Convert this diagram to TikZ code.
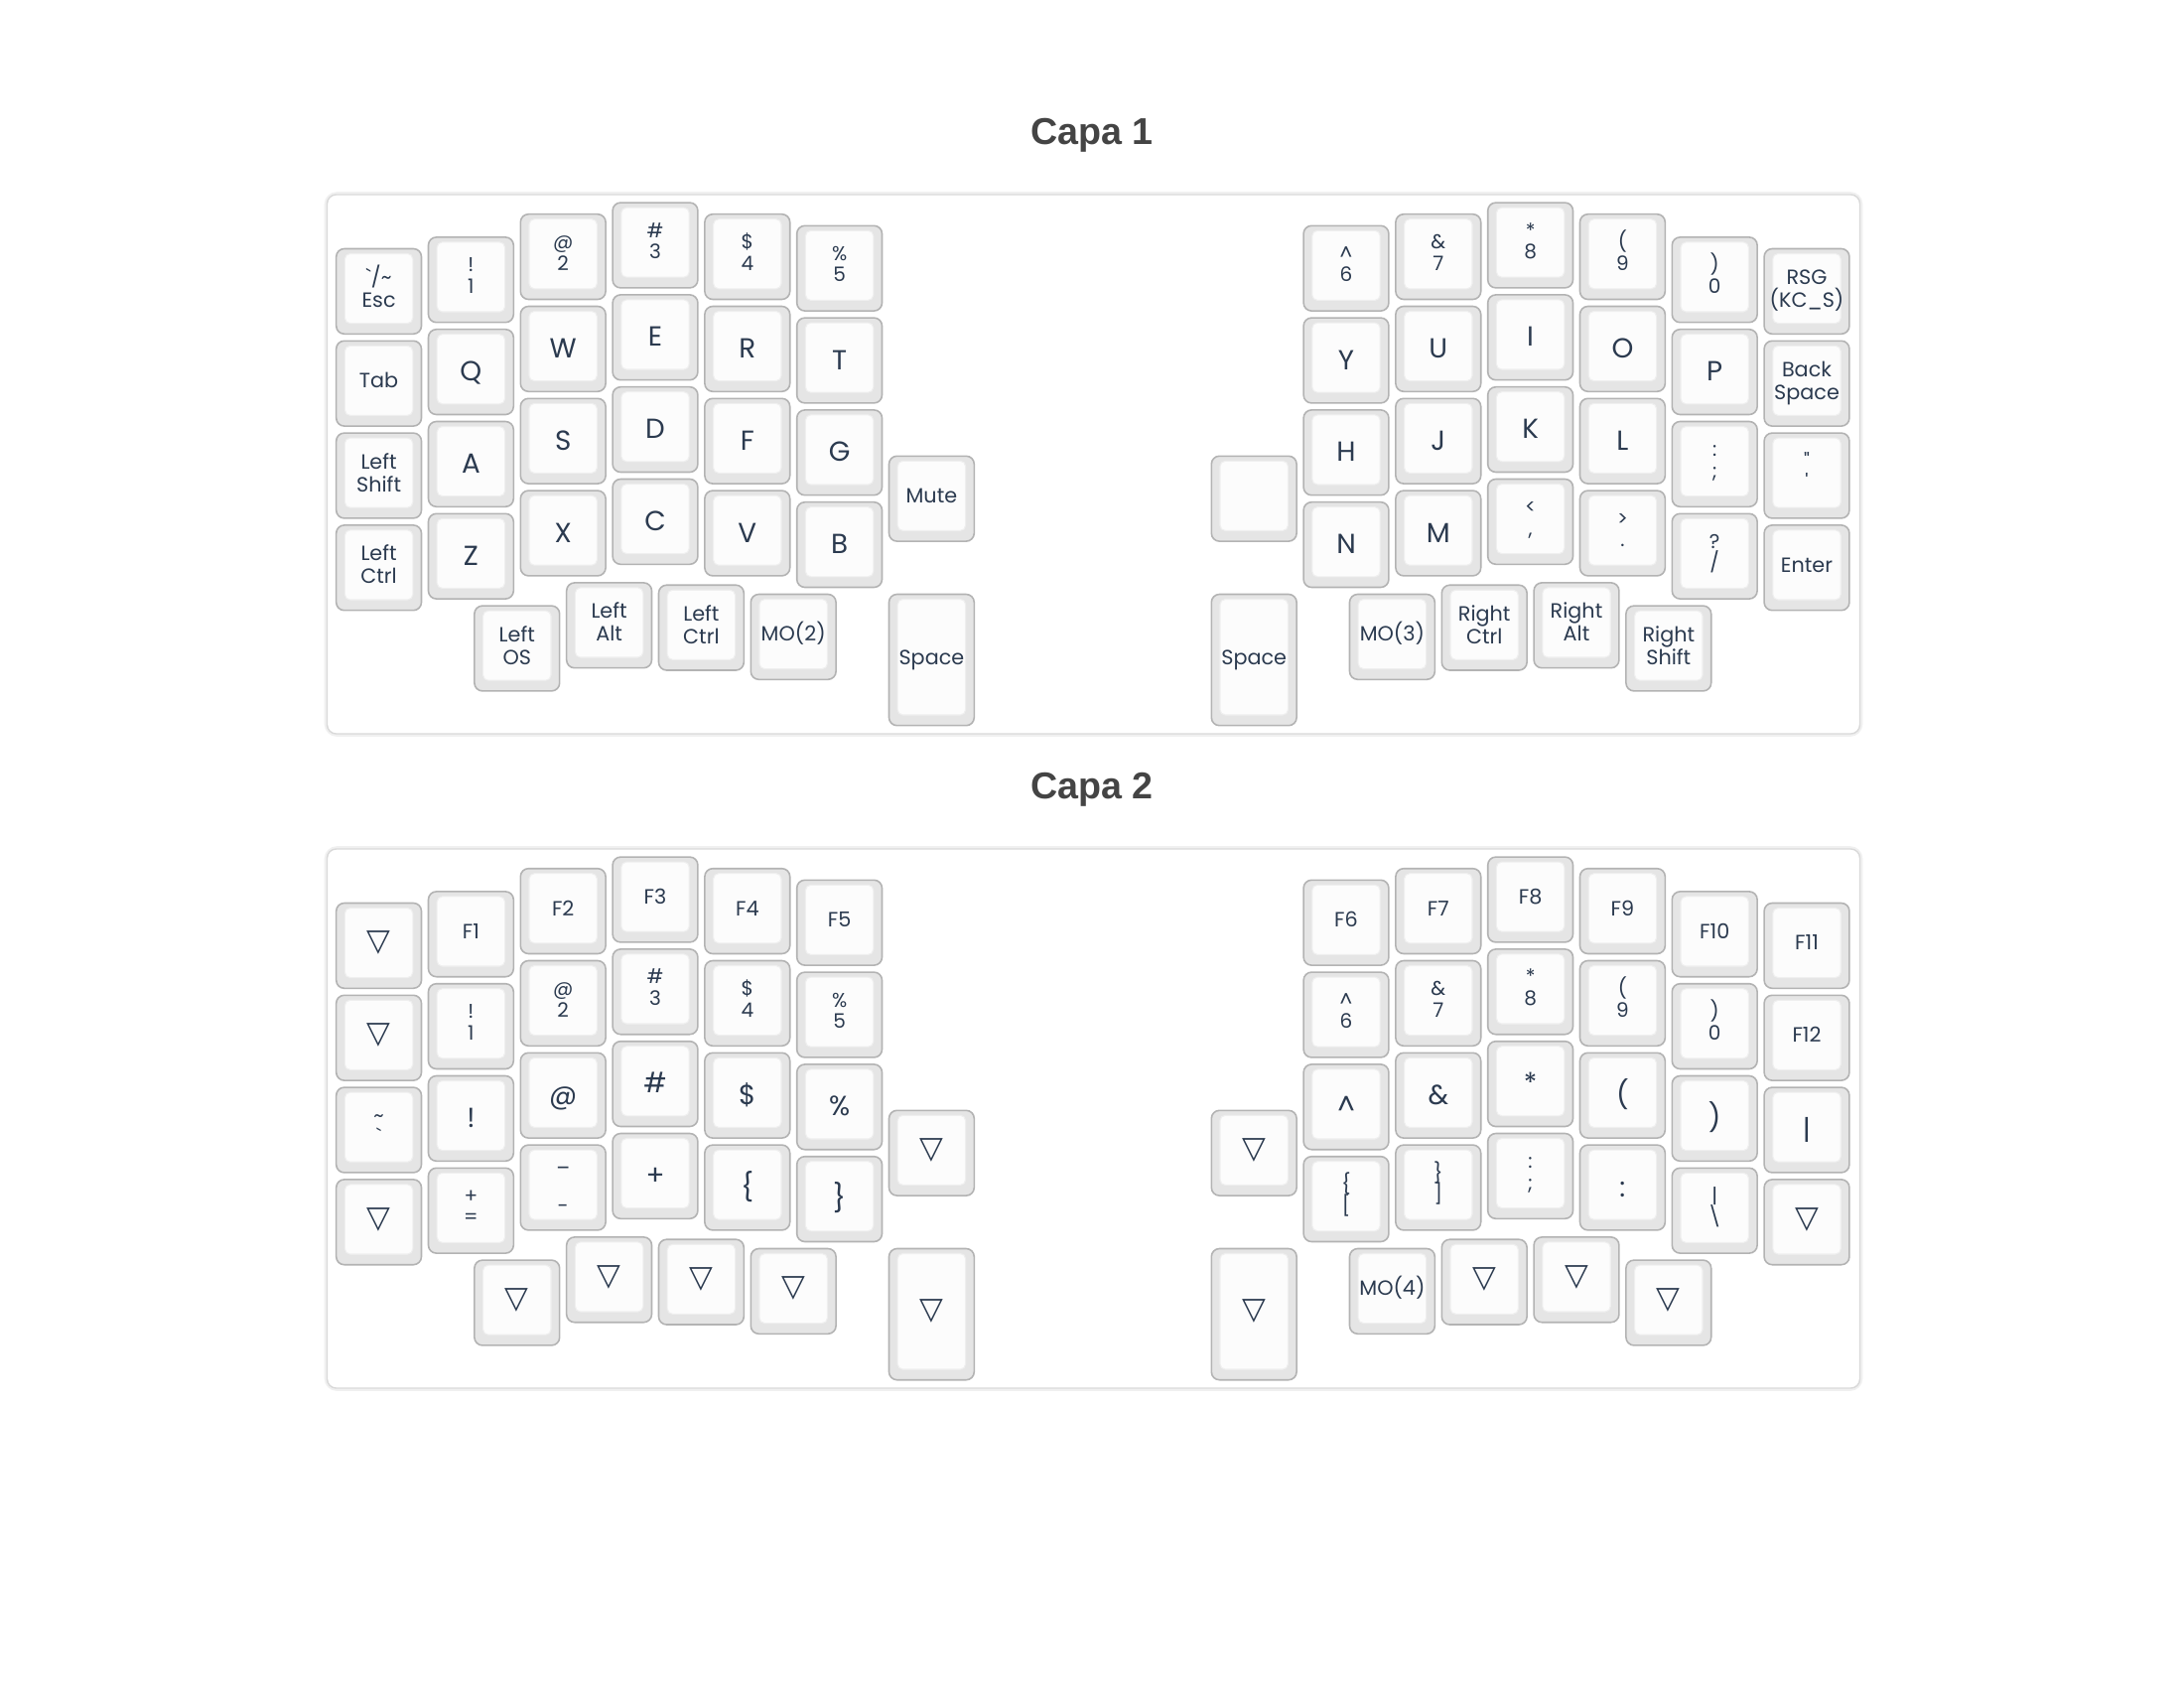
\documentclass[tikz,border=0pt]{standalone}
\usepackage{fontspec}
\newfontfamily\keyfont{Poppins}
\newfontfamily\titlefont{Liberation Sans}
\newfontfamily\symfont{DejaVu Sans}
\definecolor{keytext}{HTML}{2B3A4F}
\definecolor{keyside}{HTML}{E5E5E5}
\definecolor{keyedge}{HTML}{B3B3B3}
\definecolor{keytop}{HTML}{FCFCFC}
\definecolor{topedge}{HTML}{EFEFEF}
\definecolor{paneledge}{HTML}{D9D9D9}
\definecolor{panelglow}{HTML}{F0F0F0}
\definecolor{titlegray}{HTML}{444444}
\tikzset{
  keyouter/.style={draw=keyedge, fill=keyside, line width=0.45pt, rounded corners=2.3pt, inner sep=0pt, outer sep=0pt},
  keyinner/.style={draw=topedge, fill=keytop, line width=0.3pt, rounded corners=1.5pt, inner sep=0pt, outer sep=0pt},
  bigtxt/.style={anchor=base, inner sep=0pt, text=keytext, font=\keyfont\fontsize{7.9pt}{8pt}\selectfont},
  wordtxt/.style={anchor=base, inner sep=0pt, text=keytext, font=\keyfont\fontsize{5.9pt}{6pt}\selectfont},
  legtxt/.style={anchor=base, inner sep=0pt, text=keytext, font=\keyfont\fontsize{5.7pt}{6pt}\selectfont},
  tritxt/.style={anchor=center, inner sep=0pt, text=keytext, font=\symfont\fontsize{8.8pt}{9pt}\selectfont},
  panelbox/.style={draw=paneledge, fill=white, line width=0.4pt, rounded corners=2.6pt},
  panelglowline/.style={draw=panelglow, line width=1.6pt, rounded corners=2.8pt},
  titletxt/.style={anchor=base, inner sep=0pt, text=titlegray, font=\titlefont\bfseries\fontsize{10.7pt}{12pt}\selectfont},
}
% key: name, kx, ky, w, h, layer offset (px), label macro, label a, label b
\newcommand\kk[9]{%
  \def\kname{#1}%
  \pgfmathsetmacro\kcx{335.2+(#2+0.5*#4)*92.8}%
  \pgfmathsetmacro\kh{#5*92.8-7}%
  \pgfmathsetmacro\kw{#4*92.8-7}%
  \pgfmathsetmacro\ktop{247+(#3)*92.8+3.5+#6}%
  \pgfmathsetmacro\kcy{\ktop+0.5*\kh}%
  \pgfmathsetmacro\kic{\ktop+0.5*(5+\kh-10.7)}%
  \node[keyouter, minimum width={\kw*0.01cm}, minimum height={\kh*0.01cm}] (#1) at (\kcx,\kcy) {};
  \node[keyinner, minimum width={(\kw-17.4)*0.01cm}, minimum height={(\kh-15.7)*0.01cm}] (#1-top) at (\kcx,\kic) {};
  #7{#8}{#9}%
}
\newcommand\lbig[2]{\node[bigtxt] (\kname-l) at ({\kcx},{\kic+12}) {#1};}
\newcommand\lword[2]{\node[wordtxt] (\kname-l) at ({\kcx},{\kic+7.3}) {#1};}
\newcommand\ltwo[2]{\node[wordtxt] (\kname-a) at ({\kcx},{\kic-4}) {#1};\node[wordtxt] (\kname-b) at ({\kcx},{\kic+19}) {#2};}
\newcommand\lleg[2]{\node[legtxt] (\kname-a) at ({\kcx},{\kic-5}) {#1};\node[legtxt] (\kname-b) at ({\kcx},{\kic+16.5}) {#2};}
\newcommand\lund[2]{\node[legtxt] (\kname-a) at ({\kcx},{\kic-18.5}) {#1};\node[legtxt] (\kname-b) at ({\kcx},{\kic+28.7}) {#2};}
\newcommand\ltri[2]{\node[tritxt] (\kname-l) at ({\kcx},{\kic}) {▽};}
\newcommand\lnone[2]{}
\begin{document}
\begin{tikzpicture}[x=0.01cm, y=-0.01cm]
\useasboundingbox (0,0) rectangle (2200,1700);
\fill[white] (0,0) rectangle (2200,1700);
% titles
\node[titletxt] (title1) at (1100,145.5) {Capa 1};
\node[titletxt] (title2) at (1100,804.5) {Capa 2};
% panels
\draw[panelglowline] (329.5,196) rectangle (1873.5,739);
\draw[panelbox] (329.5,196) rectangle (1873.5,739);
\draw[panelglowline] (329.5,855) rectangle (1873.5,1398);
\draw[panelbox] (329.5,855) rectangle (1873.5,1398);

% ================= Layer 1 =================
% left half
\kk{a-esc}{0}{0}{1}{1}{0}{\ltwo}{\textasciigrave/\textasciitilde}{Esc}
\kk{a-tab}{0}{1}{1}{1}{0}{\lword}{Tab}{}
\kk{a-lsft}{0}{2}{1}{1}{0}{\ltwo}{Left}{Shift}
\kk{a-lctl}{0}{3}{1}{1}{0}{\ltwo}{Left}{Ctrl}
\kk{a-n1}{1}{-0.125}{1}{1}{0}{\lleg}{!}{1}
\kk{a-q}{1}{0.875}{1}{1}{0}{\lbig}{Q}{}
\kk{a-a}{1}{1.875}{1}{1}{0}{\lbig}{A}{}
\kk{a-z}{1}{2.875}{1}{1}{0}{\lbig}{Z}{}
\kk{a-n2}{2}{-0.375}{1}{1}{0}{\lleg}{@}{2}
\kk{a-w}{2}{0.625}{1}{1}{0}{\lbig}{W}{}
\kk{a-s}{2}{1.625}{1}{1}{0}{\lbig}{S}{}
\kk{a-x}{2}{2.625}{1}{1}{0}{\lbig}{X}{}
\kk{a-n3}{3}{-0.5}{1}{1}{0}{\lleg}{\#}{3}
\kk{a-e}{3}{0.5}{1}{1}{0}{\lbig}{E}{}
\kk{a-d}{3}{1.5}{1}{1}{0}{\lbig}{D}{}
\kk{a-c}{3}{2.5}{1}{1}{0}{\lbig}{C}{}
\kk{a-n4}{4}{-0.375}{1}{1}{0}{\lleg}{\$}{4}
\kk{a-r}{4}{0.625}{1}{1}{0}{\lbig}{R}{}
\kk{a-f}{4}{1.625}{1}{1}{0}{\lbig}{F}{}
\kk{a-v}{4}{2.625}{1}{1}{0}{\lbig}{V}{}
\kk{a-n5}{5}{-0.25}{1}{1}{0}{\lleg}{\%}{5}
\kk{a-t}{5}{0.75}{1}{1}{0}{\lbig}{T}{}
\kk{a-g}{5}{1.75}{1}{1}{0}{\lbig}{G}{}
\kk{a-b}{5}{2.75}{1}{1}{0}{\lbig}{B}{}
\kk{a-mute}{6}{2.25}{1}{1}{0}{\lword}{Mute}{}
\kk{a-los}{1.5}{3.875}{1}{1}{0}{\ltwo}{Left}{OS}
\kk{a-lalt}{2.5}{3.625}{1}{1}{0}{\ltwo}{Left}{Alt}
\kk{a-lctl2}{3.5}{3.65}{1}{1}{0}{\ltwo}{Left}{Ctrl}
\kk{a-mo2}{4.5}{3.75}{1}{1}{0}{\lword}{MO(2)}{}
\kk{a-lspc}{6}{3.75}{1}{1.5}{0}{\lword}{Space}{}
% right half
\kk{a-n6}{10.5}{-0.25}{1}{1}{0}{\lleg}{\textasciicircum}{6}
\kk{a-y}{10.5}{0.75}{1}{1}{0}{\lbig}{Y}{}
\kk{a-h}{10.5}{1.75}{1}{1}{0}{\lbig}{H}{}
\kk{a-n}{10.5}{2.75}{1}{1}{0}{\lbig}{N}{}
\kk{a-n7}{11.5}{-0.375}{1}{1}{0}{\lleg}{\&}{7}
\kk{a-u}{11.5}{0.625}{1}{1}{0}{\lbig}{U}{}
\kk{a-j}{11.5}{1.625}{1}{1}{0}{\lbig}{J}{}
\kk{a-m}{11.5}{2.625}{1}{1}{0}{\lbig}{M}{}
\kk{a-n8}{12.5}{-0.5}{1}{1}{0}{\lleg}{*}{8}
\kk{a-i}{12.5}{0.5}{1}{1}{0}{\lbig}{I}{}
\kk{a-k}{12.5}{1.5}{1}{1}{0}{\lbig}{K}{}
\kk{a-comma}{12.5}{2.5}{1}{1}{0}{\lleg}{<}{,}
\kk{a-n9}{13.5}{-0.375}{1}{1}{0}{\lleg}{(}{9}
\kk{a-o}{13.5}{0.625}{1}{1}{0}{\lbig}{O}{}
\kk{a-l}{13.5}{1.625}{1}{1}{0}{\lbig}{L}{}
\kk{a-dot}{13.5}{2.625}{1}{1}{0}{\lleg}{>}{.}
\kk{a-n0}{14.5}{-0.125}{1}{1}{0}{\lleg}{)}{0}
\kk{a-p}{14.5}{0.875}{1}{1}{0}{\lbig}{P}{}
\kk{a-semi}{14.5}{1.875}{1}{1}{0}{\lleg}{:}{;}
\kk{a-slash}{14.5}{2.875}{1}{1}{0}{\lleg}{?}{/}
\kk{a-rsg}{15.5}{0}{1}{1}{0}{\ltwo}{RSG}{(KC\_S)}
\kk{a-bksp}{15.5}{1}{1}{1}{0}{\ltwo}{Back}{Space}
\kk{a-quote}{15.5}{2}{1}{1}{0}{\lleg}{\textquotedbl}{\textquotesingle}
\kk{a-enter}{15.5}{3}{1}{1}{0}{\lword}{Enter}{}
\kk{a-enc}{9.5}{2.25}{1}{1}{0}{\lnone}{}{}
\kk{a-rspc}{9.5}{3.75}{1}{1.5}{0}{\lword}{Space}{}
\kk{a-mo3}{11}{3.75}{1}{1}{0}{\lword}{MO(3)}{}
\kk{a-rctl}{12}{3.65}{1}{1}{0}{\ltwo}{Right}{Ctrl}
\kk{a-ralt}{13}{3.625}{1}{1}{0}{\ltwo}{Right}{Alt}
\kk{a-rsft}{14}{3.875}{1}{1}{0}{\ltwo}{Right}{Shift}

% ================= Layer 2 =================
% left half
\kk{b-c0r0}{0}{0}{1}{1}{659}{\ltri}{}{}
\kk{b-c0r1}{0}{1}{1}{1}{659}{\ltri}{}{}
\kk{b-c0r2}{0}{2}{1}{1}{659}{\lleg}{\textasciitilde}{\textasciigrave}
\kk{b-c0r3}{0}{3}{1}{1}{659}{\ltri}{}{}
\kk{b-f1}{1}{-0.125}{1}{1}{659}{\lword}{F1}{}
\kk{b-c1r1}{1}{0.875}{1}{1}{659}{\lleg}{!}{1}
\kk{b-c1r2}{1}{1.875}{1}{1}{659}{\lbig}{!}{}
\kk{b-c1r3}{1}{2.875}{1}{1}{659}{\lleg}{+}{=}
\kk{b-f2}{2}{-0.375}{1}{1}{659}{\lword}{F2}{}
\kk{b-c2r1}{2}{0.625}{1}{1}{659}{\lleg}{@}{2}
\kk{b-c2r2}{2}{1.625}{1}{1}{659}{\lbig}{@}{}
\kk{b-c2r3}{2}{2.625}{1}{1}{659}{\lund}{\_}{-}
\kk{b-f3}{3}{-0.5}{1}{1}{659}{\lword}{F3}{}
\kk{b-c3r1}{3}{0.5}{1}{1}{659}{\lleg}{\#}{3}
\kk{b-c3r2}{3}{1.5}{1}{1}{659}{\lbig}{\#}{}
\kk{b-c3r3}{3}{2.5}{1}{1}{659}{\lbig}{+}{}
\kk{b-f4}{4}{-0.375}{1}{1}{659}{\lword}{F4}{}
\kk{b-c4r1}{4}{0.625}{1}{1}{659}{\lleg}{\$}{4}
\kk{b-c4r2}{4}{1.625}{1}{1}{659}{\lbig}{\$}{}
\kk{b-c4r3}{4}{2.625}{1}{1}{659}{\lbig}{\{}{}
\kk{b-f5}{5}{-0.25}{1}{1}{659}{\lword}{F5}{}
\kk{b-c5r1}{5}{0.75}{1}{1}{659}{\lleg}{\%}{5}
\kk{b-c5r2}{5}{1.75}{1}{1}{659}{\lbig}{\%}{}
\kk{b-c5r3}{5}{2.75}{1}{1}{659}{\lbig}{\}}{}
\kk{b-mute}{6}{2.25}{1}{1}{659}{\ltri}{}{}
\kk{b-los}{1.5}{3.875}{1}{1}{659}{\ltri}{}{}
\kk{b-lalt}{2.5}{3.625}{1}{1}{659}{\ltri}{}{}
\kk{b-lctl2}{3.5}{3.65}{1}{1}{659}{\ltri}{}{}
\kk{b-mo2}{4.5}{3.75}{1}{1}{659}{\ltri}{}{}
\kk{b-lspc}{6}{3.75}{1}{1.5}{659}{\ltri}{}{}
% right half
\kk{b-f6}{10.5}{-0.25}{1}{1}{659}{\lword}{F6}{}
\kk{b-j0r1}{10.5}{0.75}{1}{1}{659}{\lleg}{\textasciicircum}{6}
\kk{b-j0r2}{10.5}{1.75}{1}{1}{659}{\lbig}{\textasciicircum}{}
\kk{b-j0r3}{10.5}{2.75}{1}{1}{659}{\lleg}{\{}{[}
\kk{b-f7}{11.5}{-0.375}{1}{1}{659}{\lword}{F7}{}
\kk{b-j1r1}{11.5}{0.625}{1}{1}{659}{\lleg}{\&}{7}
\kk{b-j1r2}{11.5}{1.625}{1}{1}{659}{\lbig}{\&}{}
\kk{b-j1r3}{11.5}{2.625}{1}{1}{659}{\lleg}{\}}{]}
\kk{b-f8}{12.5}{-0.5}{1}{1}{659}{\lword}{F8}{}
\kk{b-j2r1}{12.5}{0.5}{1}{1}{659}{\lleg}{*}{8}
\kk{b-j2r2}{12.5}{1.5}{1}{1}{659}{\lbig}{*}{}
\kk{b-j2r3}{12.5}{2.5}{1}{1}{659}{\lleg}{:}{;}
\kk{b-f9}{13.5}{-0.375}{1}{1}{659}{\lword}{F9}{}
\kk{b-j3r1}{13.5}{0.625}{1}{1}{659}{\lleg}{(}{9}
\kk{b-j3r2}{13.5}{1.625}{1}{1}{659}{\lbig}{(}{}
\kk{b-j3r3}{13.5}{2.625}{1}{1}{659}{\lbig}{:}{}
\kk{b-f10}{14.5}{-0.125}{1}{1}{659}{\lword}{F10}{}
\kk{b-j4r1}{14.5}{0.875}{1}{1}{659}{\lleg}{)}{0}
\kk{b-j4r2}{14.5}{1.875}{1}{1}{659}{\lbig}{)}{}
\kk{b-j4r3}{14.5}{2.875}{1}{1}{659}{\lleg}{\textbar}{\textbackslash}
\kk{b-f11}{15.5}{0}{1}{1}{659}{\lword}{F11}{}
\kk{b-f12}{15.5}{1}{1}{1}{659}{\lword}{F12}{}
\kk{b-j5r2}{15.5}{2}{1}{1}{659}{\lbig}{\textbar}{}
\kk{b-j5r3}{15.5}{3}{1}{1}{659}{\ltri}{}{}
\kk{b-enc}{9.5}{2.25}{1}{1}{659}{\ltri}{}{}
\kk{b-rspc}{9.5}{3.75}{1}{1.5}{659}{\ltri}{}{}
\kk{b-mo4}{11}{3.75}{1}{1}{659}{\lword}{MO(4)}{}
\kk{b-rctl}{12}{3.65}{1}{1}{659}{\ltri}{}{}
\kk{b-ralt}{13}{3.625}{1}{1}{659}{\ltri}{}{}
\kk{b-rsft}{14}{3.875}{1}{1}{659}{\ltri}{}{}
\end{tikzpicture}
\end{document}
